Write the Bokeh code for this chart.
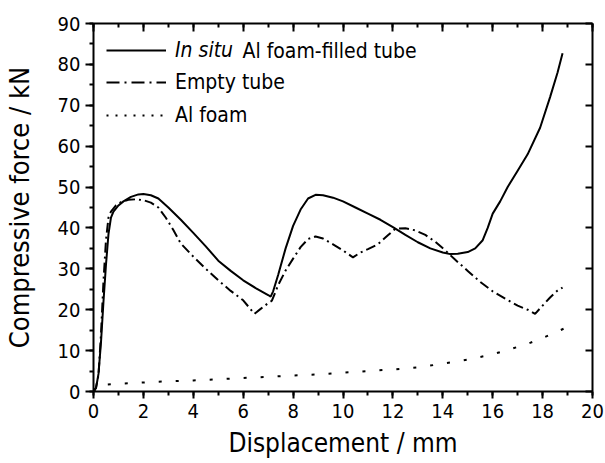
import numpy as np
from bokeh.plotting import figure
from bokeh.models import (Range1d, LinearAxis, SingleIntervalTicker, Legend, LegendItem, Label,
                          CustomLabelingPolicy)
from bokeh.embed import file_html
from bokeh.resources import INLINE
from bokeh.core.properties import value

FONT = "DejaVu Sans Condensed, DejaVu Sans"

# In situ Al foam-filled tube
x_filled = [0, 0.1, 0.2, 0.3, 0.4, 0.5, 0.6, 0.7, 0.8, 1.0, 1.2, 1.5, 1.8, 2.0, 2.3, 2.6, 3.0,
            3.5, 4.0, 4.5, 5.0, 5.5, 6.0, 6.5, 7.0, 7.1, 7.2, 7.4, 7.7, 8.0, 8.3, 8.6, 8.9,
            9.2, 9.6, 10.0, 10.5, 11.0, 11.5, 12.0, 12.5, 13.0, 13.5, 14.0, 14.3, 14.6, 15.0,
            15.3, 15.6, 15.8, 16.0, 16.3, 16.6, 17.0, 17.4, 17.9, 18.3, 18.6, 18.8]
f_filled = [0, 0.8, 4.3, 12, 22, 31, 38.5, 42.5, 44, 45.5, 46.5, 47.6, 48.2, 48.3, 48.0, 47.2, 45.0,
            42.0, 38.8, 35.5, 32.0, 29.5, 27.2, 25.3, 23.6, 23.2, 24.5, 28.5, 35.0, 40.5, 44.5, 47.2, 48.1,
            48.0, 47.4, 46.5, 45.0, 43.5, 42.0, 40.2, 38.3, 36.5, 35.0, 34.0, 33.6, 33.7, 34.1,
            35.0, 37.0, 40.0, 43.5, 46.5, 50.0, 54.0, 58.0, 64.5, 72.0, 78.0, 82.7]

# Empty tube
x_empty = [0, 0.1, 0.2, 0.3, 0.4, 0.5, 0.6, 0.7, 0.9, 1.1, 1.4, 1.7, 2.0, 2.3, 2.6, 2.9, 3.2,
           3.5, 4.0, 4.5, 5.0, 5.5, 6.0, 6.45, 6.7, 7.0, 7.15, 7.4, 7.7, 8.0, 8.3, 8.6, 8.9,
           9.2, 9.6, 10.0, 10.4, 10.7, 11.0, 11.4, 11.8, 12.1, 12.5, 12.9, 13.3, 13.7, 14.1,
           14.5, 15.0, 15.5, 16.0, 16.5, 17.0, 17.4, 17.7, 18.0, 18.3, 18.6, 18.8]
f_empty = [0, 1.0, 4, 14, 27, 37, 42.5, 44, 45.5, 46.3, 46.9, 47.0, 46.8, 46.2, 45.0, 42.5, 39.5,
           36.2, 33.0, 30.0, 27.2, 24.6, 22.3, 19.0, 20.2, 21.6, 22.2, 26.0, 29.6, 32.5, 35.3, 37.3, 37.9,
           37.4, 36.0, 34.5, 32.8, 34.0, 34.8, 36.0, 38.2, 39.8, 39.9, 39.4, 38.3, 36.6, 34.5,
           32.2, 29.5, 26.8, 24.5, 22.7, 21.0, 20.0, 19.0, 21.0, 23.0, 24.7, 25.4]

# Al foam
x_foam = [0, 0.15, 0.35, 1, 2, 3, 4, 5, 6, 7, 8, 9, 10, 11, 12, 13, 14, 15, 16, 16.5, 17, 17.5,
          18, 18.5, 19, 19.2]
f_foam = [0, 1.2, 1.6, 1.9, 2.2, 2.5, 2.7, 3.0, 3.3, 3.6, 3.9, 4.2, 4.6, 5.0, 5.4, 5.9, 6.8, 7.8,
          9.1, 10.0, 10.9, 11.9, 13.1, 14.4, 15.8, 16.4]

labels = ["In situ", "Al foam-filled tube", "Empty tube", "Al foam"]
x_title = "Displacement / mm"
y_title = "Compressive force / kN"

p = figure(width=605, height=463, output_backend="svg", toolbar_location=None,
           x_range=Range1d(0, 20), y_range=Range1d(0, 90),
           x_axis_type=None, y_axis_type=None,
           min_border_left=92, min_border_right=13, min_border_top=23, min_border_bottom=72)
p.outline_line_color = None
p.background_fill_color = "white"
p.border_fill_color = "white"

common = dict(axis_line_width=2, major_tick_line_width=2, minor_tick_line_width=2,
              axis_line_color="black", major_tick_line_color="black", minor_tick_line_color="black",
              major_label_text_font=FONT, major_label_text_color="black",
              axis_label_text_font=FONT, axis_label_text_color="black",
              axis_label_text_font_style="normal")

hide_all = CustomLabelingPolicy(code="""
for (const i of [...indices]) { indices.unset(i) }
return indices
""")

xb = LinearAxis(ticker=SingleIntervalTicker(interval=2, num_minor_ticks=2),
                axis_label=x_title, axis_label_text_font_size="26px",
                major_label_text_font_size="20px", major_tick_out=7, major_tick_in=0,
                minor_tick_out=4, minor_tick_in=0, major_label_standoff=5,
                axis_label_standoff=7, **common)
yl = LinearAxis(ticker=SingleIntervalTicker(interval=10, num_minor_ticks=2),
                axis_label=y_title, axis_label_text_font_size="27px",
                major_label_text_font_size="20px", major_tick_out=8, major_tick_in=0,
                minor_tick_out=4, minor_tick_in=0, major_label_standoff=5,
                axis_label_standoff=20, **common)
xt = LinearAxis(ticker=SingleIntervalTicker(interval=2, num_minor_ticks=2),
                major_label_text_font_size="1px", major_label_policy=hide_all,
                major_tick_out=0, major_tick_in=8,
                minor_tick_out=0, minor_tick_in=4, major_label_standoff=0, **common)
yr = LinearAxis(ticker=SingleIntervalTicker(interval=10, num_minor_ticks=2),
                major_label_text_font_size="1px", major_label_policy=hide_all,
                major_tick_out=0, major_tick_in=7,
                minor_tick_out=0, minor_tick_in=0, major_label_standoff=0, **common)
yr.minor_tick_line_color = None
p.add_layout(xb, "below")
p.add_layout(yl, "left")
p.add_layout(xt, "above")
p.add_layout(yr, "right")

r1 = p.line(x_filled, f_filled, line_color="black", line_width=2)
p.line(x_empty, f_empty, line_color="black", line_width=2, line_dash="10 4 2 4")
p.line(x_foam, f_foam, line_color="black", line_width=2, line_dash="3 14")

# legend-only renderers (hold no drawable point)
nan = np.array([np.nan])
l2 = p.line(nan, nan, line_color="black", line_width=2, line_dash="13 5 2 5")
l3 = p.line(nan, nan, line_color="black", line_width=2, line_dash="2 7")

leg_kw = dict(padding=0, glyph_width=60, glyph_height=28, label_height=28,
              label_standoff=9, spacing=5, label_text_font=FONT, label_text_font_size="21px",
              label_text_color="black", border_line_color=None, background_fill_alpha=0)
legend_a = Legend(items=[LegendItem(label=value(labels[0]), renderers=[r1])],
                  location="top_left", margin=13, label_text_font_style="italic", **leg_kw)
legend_b = Legend(items=[LegendItem(label=value(labels[2]), renderers=[l2]),
                         LegendItem(label=value(labels[3]), renderers=[l3])],
                  location=(13, 262), margin=0, **leg_kw)
p.add_layout(legend_a)
p.add_layout(legend_b)

p.add_layout(Label(x=149, y=341, x_units="screen", y_units="screen", text=labels[1],
                   text_font=FONT, text_font_size="21px",
                   text_baseline="middle", text_color="black"))

open("out.html", "w").write(file_html(p, INLINE))
